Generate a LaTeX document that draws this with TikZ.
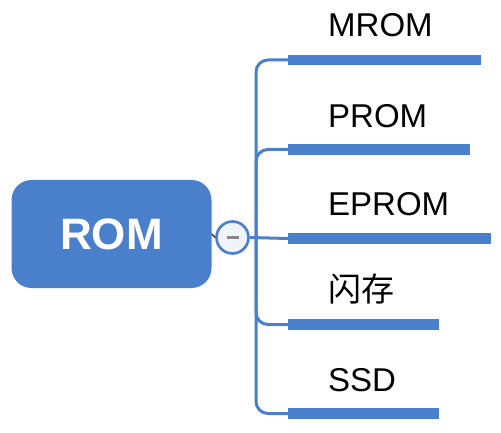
\documentclass[tikz,border=0pt]{standalone}
\usepackage{fontspec}
\setmainfont{Liberation Sans}
\newfontfamily\cjk{Noto Sans CJK SC}
\usetikzlibrary{positioning}
\definecolor{rombl}{RGB}{74,127,204}
\definecolor{togfill}{RGB}{240,244,250}
\definecolor{minusc}{RGB}{140,132,140}

\begin{document}
\begin{tikzpicture}[x=1pt,y=-1pt]
\tikzstyle{every node}=[font=\fontsize{33}{38}\selectfont]
\tikzstyle{lbl}=[anchor=west, inner sep=0pt]
\tikzstyle{bar}=[rombl, line width=10.5pt]
\tikzstyle{conn}=[rombl, line width=3pt, rounded corners=12pt]
\useasboundingbox (0,0) rectangle (501,433);
\node[fill=rombl, rounded corners=20pt, minimum width=200pt, minimum height=108pt,
  text=white, font=\fontsize{44}{50}\selectfont\bfseries] (rom) at (111.5,234) {ROM};
\node[circle, draw=rombl, fill=togfill, line width=2.6pt, minimum size=32pt,
  inner sep=0pt] (tog) at (232.5,237.5) {};
\draw [darkgray, line width=1.5pt] (rom.east) -- (tog.west);
\draw [minusc, line width=2.6pt] ([xshift=-6pt]tog.center) -- ([xshift=6pt]tog.center);
\coordinate (jn) at (256,237.5);
% bars under the labels
\coordinate (b1s) at (288,60);    \coordinate (b1e) at (481,60);
\coordinate (b2s) at (288,149.5); \coordinate (b2e) at (470,149.5);
\coordinate (b3s) at (288,238.5); \coordinate (b3e) at (491,238.5);
\coordinate (b4s) at (288,324.5); \coordinate (b4e) at (439,324.5);
\coordinate (b5s) at (288,413.5); \coordinate (b5e) at (439,413.5);
\foreach \i in {1,...,5}
  \draw [bar] (b\i s) -- (b\i e);
\draw [conn] (tog.east) -- (b3s);
\foreach \b in {b1s,b2s,b4s,b5s}
  \draw [conn] (jn) |- (\b);
\node[lbl] (mrom) at (328,25) {MROM};
\node[lbl] (prom) at (328,116) {PROM};
\node[lbl] (eprom) at (328,204) {EPROM};
\node[lbl, font=\fontsize{33}{38}\selectfont\cjk] (flash) at (328,289) {闪存};
\node[lbl] (ssd) at (328,380) {SSD};
\end{tikzpicture}
\end{document}
